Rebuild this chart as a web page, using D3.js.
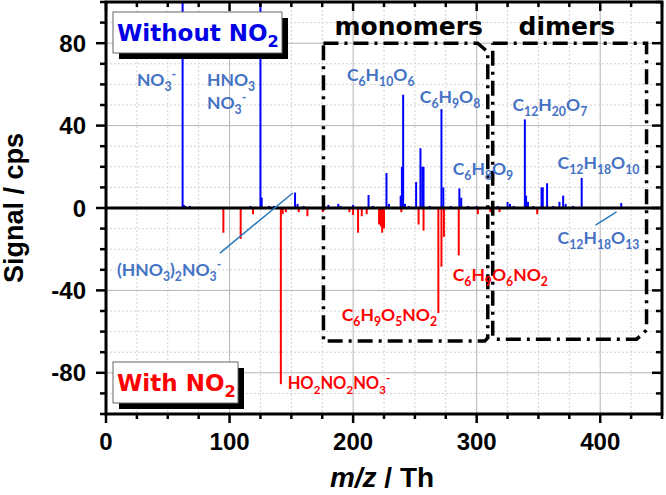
<!DOCTYPE html>
<html>
<head>
<meta charset="utf-8">
<script src="https://cdn.jsdelivr.net/npm/d3@7"></script>
<style>
  body { margin: 0; background: #fff; }
  svg { display: block; }
</style>
</head>
<body>
<div id="vis"></div>
<script>
const width = 666;
const height = 495;
const margin = { top: 2, right: 4, bottom: 81, left: 106 };

// spectrum without NO2 (positive, blue)
const blueMz = [62, 63, 64, 68, 117, 125, 126, 132, 136, 153, 155, 160, 176, 180, 188, 190, 200, 212.5, 216,
    227, 229, 238.5, 239.5, 240.5, 242, 245, 251, 254.5, 256, 257, 262, 271.5, 273, 279, 286, 287.5, 293, 300,
    309, 313, 317, 325, 327, 330, 339, 340, 341.5, 346, 352.5, 353.5, 357, 362, 367, 370, 372, 378, 385, 417];
const blueSignal = [150, 1.5, 1, 1, 1, 130, 5, 1, 1, 7.5, 2, 1, 1, 1.5, 2, 1, 1.5, 6.3, 1,
    17, 2, 6, 20, 55, 2, 1, 12.6, 29, 20, 20, 1, 48, 10, 1, 9.5, 5, 1, 1,
    1, 2, 1, 3, 2, 1, 43, 6, 3, 1, 10, 10, 12, 1, 3, 6, 2, 1, 14.6, 2.4];

// spectrum with NO2 (negative, red)
const redMz = [95, 109, 119, 141.5, 143, 145.5, 156, 163, 175.5, 197, 200, 204, 207, 211, 221, 222.5, 223.5,
    225, 239, 253, 257, 269, 271.5, 273.5, 285.5, 301, 311, 318.5, 349];
const redSignal = [-12, -15, -3, -85.5, -3, -2, -2, -4, -2, -2, -3.4, -12, -4, -3, -8, -9, -12,
    -10, -2, -8, -11, -51, -28.5, -14, -23, -3, -2, -2, -3];

const xTicks = [0, 100, 200, 300, 400];
const yTicks = [-80, -40, 0, 40, 80];

// peak labels (position in data units, text with _sub and ^sup)
const blueLabels = [
    { t: 'NO_3^-', x: 25, y: 59 },
    { t: 'HNO_3', x: 81.7, y: 59 },
    { t: 'NO_3^-', x: 81.7, y: 48 },
    { t: 'C_6H_10O_6', x: 195, y: 61.7 },
    { t: 'C_6H_9O_8', x: 254, y: 51 },
    { t: 'C_6H_8O_9', x: 280.6, y: 16 },
    { t: 'C_12H_20O_7', x: 329, y: 47 },
    { t: 'C_12H_18O_10', x: 365.5, y: 19 },
    { t: 'C_12H_18O_13', x: 365.5, y: -17.5 },
    { t: '(HNO_3)_2NO_3^-', x: 8.9, y: -33 }
];
const redLabels = [
    { t: 'C_6H_9O_6NO_2', x: 280.6, y: -35.5, fs: 17.5 },
    { t: 'C_6H_9O_5NO_2', x: 190.8, y: -55, fs: 17.5 },
    { t: 'HO_2NO_2NO_3^-', x: 147, y: -88, fs: 16.5 }
];
const leaders = [
    [[92.2, -21.9], [151.2, 7.3]],
    [[396.2, -8.3], [413.2, -1.9]]
];

const svg = d3.select('#vis')
    .append('svg')
    .attr('width', width)
    .attr('height', height);

const x = d3.scaleLinear().domain([0, 450]).range([margin.left, width - margin.right]);
const y = d3.scaleLinear().domain([-100, 100]).range([height - margin.bottom, margin.top]);

const x0 = x.range()[0], x1 = x.range()[1];
const yTop = y.range()[1], yBot = y.range()[0];

svg.append('defs').append('clipPath').attr('id', 'clip')
    .append('rect')
    .attr('x', x0).attr('y', yTop)
    .attr('width', x1 - x0).attr('height', yBot - yTop);

// grid
const grid = svg.append('g');
grid.selectAll('.vg')
    .data(d3.range(25, 450, 25))
    .join('line')
    .attr('x1', d => x(d)).attr('x2', d => x(d))
    .attr('y1', yTop).attr('y2', yBot)
    .attr('stroke', d => d % 100 === 0 ? '#b4b4b4' : '#d2d2d2')
    .attr('stroke-width', 1)
    .attr('stroke-dasharray', d => d % 100 === 0 ? null : '2,2');
grid.selectAll('.hg')
    .data(d3.range(-90, 100, 10).filter(d => d !== 0))
    .join('line')
    .attr('x1', x0).attr('x2', x1)
    .attr('y1', d => y(d)).attr('y2', d => y(d))
    .attr('stroke', d => d % 40 === 0 ? '#b4b4b4' : '#d2d2d2')
    .attr('stroke-width', 1)
    .attr('stroke-dasharray', d => d % 40 === 0 ? null : '2,2');

// peaks
const peaks = svg.append('g').attr('clip-path', 'url(#clip)');
peaks.selectAll('.blue')
    .data(d3.zip(blueMz, blueSignal))
    .join('line')
    .attr('x1', d => x(d[0])).attr('x2', d => x(d[0]))
    .attr('y1', y(0)).attr('y2', d => y(d[1]))
    .attr('stroke', '#0000ff')
    .attr('stroke-width', 2);
peaks.selectAll('.red')
    .data(d3.zip(redMz, redSignal))
    .join('line')
    .attr('x1', d => x(d[0])).attr('x2', d => x(d[0]))
    .attr('y1', y(0)).attr('y2', d => y(d[1]))
    .attr('stroke', '#ff0000')
    .attr('stroke-width', 2);

// zero line
svg.append('line')
    .attr('x1', x0).attr('x2', x1)
    .attr('y1', y(0)).attr('y2', y(0))
    .attr('stroke', '#000').attr('stroke-width', 3);

// monomer / dimer boxes
const boxLine = d3.line().x(d => x(d[0])).y(d => y(d[1]));
const monomerBox = [[176, 80], [300.8, 80], [309, 75.8], [309, -63], [306.5, -64.6], [176, -64.6], [176, 80]];
const dimerBox = [[313, 80], [437.5, 80], [437.5, -59.3], [429.4, -63.7], [315, -63.7], [313, -62], [313, 80]];
svg.selectAll('.box')
    .data([monomerBox, dimerBox])
    .join('path')
    .attr('d', boxLine)
    .attr('fill', 'none')
    .attr('stroke', '#000')
    .attr('stroke-width', 3.5)
    .attr('stroke-dasharray', '15,6,3,6');

svg.append('text')
    .attr('x', x(245)).attr('y', 35)
    .attr('text-anchor', 'middle')
    .attr('font-family', 'DejaVu Sans')
    .attr('font-weight', 'bold')
    .attr('font-size', 25)
    .text('monomers');
svg.append('text')
    .attr('x', x(373)).attr('y', 35)
    .attr('text-anchor', 'middle')
    .attr('font-family', 'DejaVu Sans')
    .attr('font-weight', 'bold')
    .attr('font-size', 25)
    .text('dimers');

// text with sub/superscripts
function rich(sel, str, fs) {
    const parts = str.split(/(_\d+|\^-)/).filter(s => s);
    let shift = 0;
    parts.forEach(p => {
        let dy = 0, size = fs, t = p;
        if (p[0] === '_') { t = p.slice(1); size = fs * 0.7; dy = fs * 0.28; }
        else if (p[0] === '^') { t = p.slice(1); size = fs * 0.7; dy = -fs * 0.42; }
        sel.append('tspan').attr('dy', dy - shift).attr('font-size', size).text(t);
        shift = dy;
    });
}

// leader lines
svg.selectAll('.leader')
    .data(leaders)
    .join('line')
    .attr('x1', d => x(d[0][0])).attr('y1', d => y(d[0][1]))
    .attr('x2', d => x(d[1][0])).attr('y2', d => y(d[1][1]))
    .attr('stroke', '#2a7ab9')
    .attr('stroke-width', 1.5);

blueLabels.forEach(l => {
    const t = svg.append('text')
        .attr('x', x(l.x)).attr('y', y(l.y))
        .attr('font-family', 'Lato')
        .attr('font-weight', 'bold')
        .attr('font-size', 17.5)
        .attr('fill', '#4472c4');
    rich(t, l.t, 17.5);
});
redLabels.forEach(l => {
    const t = svg.append('text')
        .attr('x', x(l.x)).attr('y', y(l.y))
        .attr('font-family', 'Lato')
        .attr('font-weight', 'bold')
        .attr('font-size', l.fs)
        .attr('fill', '#ff0000');
    rich(t, l.t, l.fs);
});

// legend boxes
function legendBox(bx, by, bw, bh, label, color) {
    const g = svg.append('g');
    g.append('rect').attr('x', bx + 6).attr('y', by + 6).attr('width', bw).attr('height', bh).attr('fill', '#000');
    g.append('rect').attr('x', bx).attr('y', by).attr('width', bw).attr('height', bh)
        .attr('fill', '#fff').attr('stroke', '#666').attr('stroke-width', 1);
    const t = g.append('text')
        .attr('x', bx + 4).attr('y', by + bh / 2 + 8)
        .attr('font-family', 'DejaVu Sans')
        .attr('font-weight', 'bold')
        .attr('font-size', 23)
        .attr('fill', color);
    rich(t, label, 23);
}
legendBox(113, 12, 169, 41, 'Without NO_2', '#0000e6');
legendBox(113, 362, 125, 41, 'With NO_2', '#ff0000');

// frame
svg.append('rect')
    .attr('x', x0).attr('y', yTop)
    .attr('width', x1 - x0).attr('height', yBot - yTop)
    .attr('fill', 'none').attr('stroke', '#000').attr('stroke-width', 3);

// ticks
const tickG = svg.append('g').attr('stroke', '#000').attr('stroke-width', 2.5);
const xMinor = d3.range(0, 451, 25);
tickG.selectAll('.xb')
    .data(xMinor)
    .join('line')
    .attr('x1', d => x(d)).attr('x2', d => x(d))
    .attr('y1', yBot).attr('y2', d => yBot + (d % 100 === 0 ? 9 : 5));
tickG.selectAll('.xt')
    .data(xMinor)
    .join('line')
    .attr('x1', d => x(d)).attr('x2', d => x(d))
    .attr('y1', yTop).attr('y2', d => yTop + (d % 100 === 0 ? 9 : 5));
const yMinor = d3.range(-100, 101, 10);
tickG.selectAll('.yl')
    .data(yMinor)
    .join('line')
    .attr('y1', d => y(d)).attr('y2', d => y(d))
    .attr('x1', x0).attr('x2', d => x0 - (d % 40 === 0 ? 10 : 6));
tickG.selectAll('.yr')
    .data(yMinor)
    .join('line')
    .attr('y1', d => y(d)).attr('y2', d => y(d))
    .attr('x1', x1).attr('x2', d => x1 - (d % 40 === 0 ? 10 : 6));

// tick labels
svg.selectAll('.xl')
    .data(xTicks)
    .join('text')
    .attr('x', d => x(d)).attr('y', 450)
    .attr('text-anchor', 'middle')
    .attr('font-family', 'Liberation Sans, Arial, sans-serif')
    .attr('font-weight', 'bold')
    .attr('font-size', 24)
    .text(d => d);
svg.selectAll('.ylab')
    .data(yTicks)
    .join('text')
    .attr('x', 86).attr('y', d => y(d) + 8.5)
    .attr('text-anchor', 'end')
    .attr('font-family', 'Liberation Sans, Arial, sans-serif')
    .attr('font-weight', 'bold')
    .attr('font-size', 24)
    .text(d => d);

// axis titles
svg.append('text')
    .attr('transform', `translate(23,${y(0)}) rotate(-90)`)
    .attr('text-anchor', 'middle')
    .attr('font-family', 'Liberation Sans, Arial, sans-serif')
    .attr('font-weight', 'bold')
    .attr('font-size', 27)
    .text('Signal / cps');
const xt = svg.append('text')
    .attr('x', 382).attr('y', 487)
    .attr('text-anchor', 'middle')
    .attr('font-family', 'Liberation Sans, Arial, sans-serif')
    .attr('font-weight', 'bold')
    .attr('font-size', 28);
xt.append('tspan').attr('font-style', 'italic').text('m/z');
xt.append('tspan').text(' / Th');
</script>
</body>
</html>
